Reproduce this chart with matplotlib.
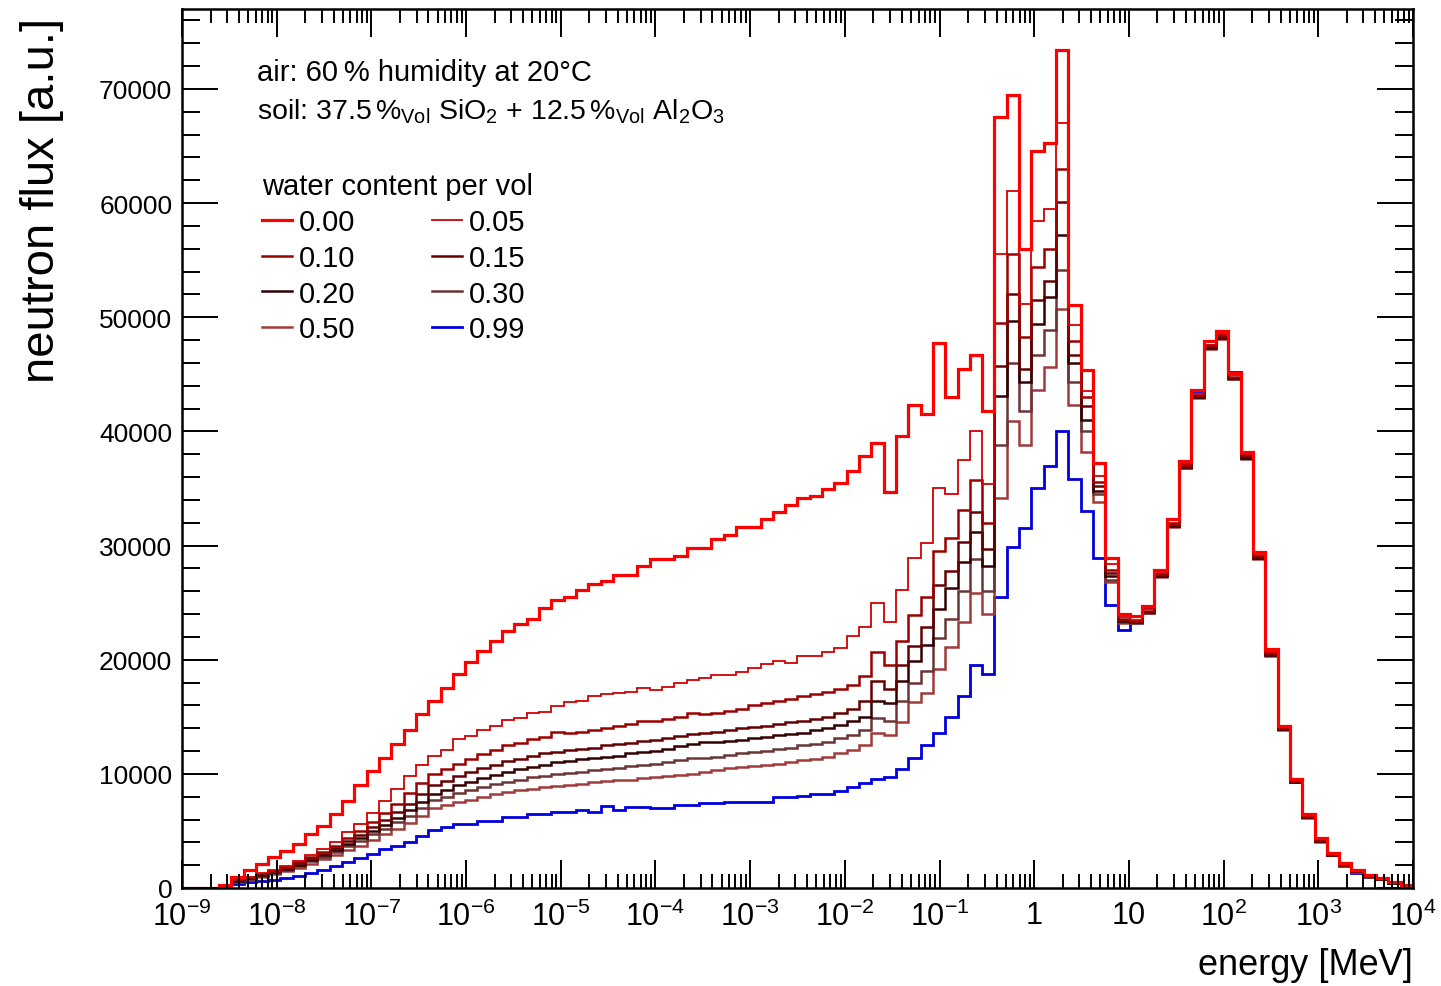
import matplotlib
matplotlib.use('Agg')
import matplotlib.pyplot as plt
import matplotlib.ticker as mticker
import numpy as np

plt.rcParams['font.family'] = ['Liberation Sans', 'DejaVu Sans']
plt.rcParams['mathtext.fontset'] = 'custom'
plt.rcParams['mathtext.rm'] = 'Liberation Sans'
plt.rcParams['mathtext.it'] = 'Liberation Sans:italic'
plt.rcParams['mathtext.bf'] = 'Liberation Sans:bold'

# 100 log bins from 1e-9 to 1e4 MeV, flux in units of 1000
edges_log = (-9, 4)
nbins = 100

flux_000 = [0, 0, 0, 0.3, 1.0, 1.6, 2.1, 2.7, 3.2, 3.85,
            4.7, 5.4, 6.5, 7.65, 9.0, 10.25, 11.4, 12.6, 13.8, 15.2,
            16.4, 17.5, 18.75, 19.8, 20.8, 21.6, 22.5, 23.1, 23.6, 24.5,
            25.2, 25.5, 26.1, 26.6, 26.9, 27.4, 27.4, 28.2, 28.8, 28.8,
            29.1, 29.8, 29.8, 30.6, 30.95, 31.6, 31.6, 32.3, 32.9, 33.55,
            34.2, 34.3, 34.96, 35.5, 36.5, 37.8, 39.0, 34.7, 39.6, 42.3,
            41.5, 47.7, 43.0, 45.5, 46.7, 41.8, 67.5, 69.5, 56.0, 64.6,
            65.3, 73.4, 51.1, 45.4, 37.2, 28.9, 24.0, 23.8, 24.7, 27.9,
            32.3, 37.4, 43.6, 47.9, 48.75, 45.1, 38.2, 29.4, 20.9, 14.2,
            9.55, 6.45, 4.34, 3.1, 2.15, 1.6, 1.15, 0.9, 0.55, 0.3]
flux_005 = [0, 0, 0, 0.2, 0.8, 1.0, 1.3, 1.6, 1.95, 2.4,
            2.9, 3.4, 4.05, 4.9, 5.6, 6.6, 7.65, 8.7, 9.85, 10.8,
            11.6, 12.1, 13.05, 13.35, 13.8, 14.2, 14.75, 14.9, 15.3, 15.45,
            15.9, 16.3, 16.4, 16.8, 17.0, 17.1, 17.15, 17.5, 17.35, 17.6,
            18.0, 18.25, 18.4, 18.7, 18.7, 18.95, 19.3, 19.6, 19.9, 19.7,
            20.35, 20.35, 20.65, 21.0, 22.1, 22.9, 25.0, 23.3, 26.1, 28.9,
            30.2, 35.0, 34.5, 37.5, 40.0, 35.4, 55.5, 61.1, 51.2, 58.4,
            59.5, 67.0, 49.3, 43.5, 36.1, 28.4, 23.7, 23.5, 24.4, 27.6,
            32.0, 37.1, 43.3, 47.6, 48.5, 44.9, 38.0, 29.2, 20.7, 14.1,
            9.45, 6.35, 4.25, 3.0, 2.1, 1.55, 1.1, 0.85, 0.5, 0.3]
flux_010 = [0, 0, 0, 0.2, 0.75, 0.95, 1.2, 1.5, 1.85, 2.25,
            2.7, 3.15, 3.7, 4.4, 5.0, 5.8, 6.6, 7.4, 8.3, 9.2,
            10.0, 10.4, 10.9, 11.3, 11.7, 12.1, 12.5, 12.7, 13.05, 13.2,
            13.7, 13.6, 13.7, 13.8, 14.0, 14.2, 14.4, 14.6, 14.65, 14.8,
            15.0, 15.3, 15.2, 15.3, 15.5, 15.7, 16.0, 16.2, 16.4, 16.6,
            16.8, 17.0, 17.2, 17.4, 17.8, 18.6, 20.7, 19.5, 21.6, 23.9,
            25.5, 29.5, 30.7, 33.1, 35.7, 32.0, 49.5, 55.5, 48.3, 54.4,
            56.0, 63.0, 47.9, 43.0, 35.6, 27.9, 23.6, 23.4, 24.3, 27.5,
            31.9, 37.0, 43.2, 47.5, 48.4, 44.8, 37.9, 29.1, 20.6, 14.0,
            9.4, 6.3, 4.2, 2.95, 2.05, 1.5, 1.1, 0.85, 0.5, 0.28]
flux_015 = [0, 0, 0, 0.2, 0.7, 0.9, 1.15, 1.45, 1.75, 2.15,
            2.6, 3.0, 3.5, 4.1, 4.65, 5.3, 6.0, 6.7, 7.4, 8.2,
            9.0, 9.4, 9.8, 10.2, 10.5, 10.8, 11.1, 11.3, 11.6, 11.8,
            11.9, 12.1, 12.2, 12.3, 12.5, 12.6, 12.7, 12.9, 13.0, 13.1,
            13.3, 13.5, 13.6, 13.7, 13.8, 14.0, 14.1, 14.2, 14.4, 14.5,
            14.6, 14.8, 15.0, 15.3, 15.7, 16.4, 18.1, 17.4, 19.5, 21.2,
            22.9, 26.5, 27.8, 30.3, 32.9, 29.7, 45.7, 52.0, 45.5, 51.5,
            53.2, 60.1, 46.7, 42.2, 35.2, 27.6, 23.5, 23.3, 24.2, 27.4,
            31.8, 36.9, 43.1, 47.4, 48.3, 44.7, 37.8, 29.0, 20.5, 13.95,
            9.35, 6.25, 4.15, 2.9, 2.0, 1.5, 1.05, 0.8, 0.5, 0.28]
flux_020 = [0, 0, 0, 0.2, 0.65, 0.85, 1.1, 1.4, 1.7, 2.05,
            2.45, 2.85, 3.3, 3.85, 4.35, 4.95, 5.5, 6.1, 6.8, 7.5,
            8.2, 8.6, 9.0, 9.3, 9.6, 9.9, 10.2, 10.4, 10.6, 10.8,
            11.0, 11.1, 11.3, 11.4, 11.5, 11.6, 11.8, 11.9, 12.0, 12.2,
            12.4, 12.6, 12.8, 12.8, 12.9, 13.0, 13.1, 13.2, 13.4, 13.5,
            13.6, 13.8, 14.0, 14.3, 14.6, 15.0, 16.4, 16.2, 18.1, 19.9,
            21.3, 24.4, 26.3, 28.6, 31.2, 28.2, 43.1, 49.7, 44.3, 49.4,
            51.8, 57.2, 46.0, 41.0, 34.8, 27.3, 23.4, 23.3, 24.2, 27.3,
            31.7, 36.9, 43.0, 47.3, 48.2, 44.7, 37.7, 28.9, 20.4, 13.9,
            9.3, 6.2, 4.1, 2.9, 2.0, 1.45, 1.05, 0.8, 0.45, 0.27]
flux_030 = [0, 0, 0, 0.2, 0.6, 0.8, 1.05, 1.3, 1.6, 1.95,
            2.35, 2.75, 3.15, 3.65, 4.1, 4.7, 5.2, 5.75, 6.3, 7.0,
            7.7, 8.0, 8.3, 8.6, 8.85, 9.1, 9.3, 9.5, 9.7, 9.85,
            10.0, 10.1, 10.2, 10.35, 10.45, 10.55, 10.65, 10.8, 10.9, 11.05,
            11.2, 11.35, 11.4, 11.5, 11.65, 11.8, 11.9, 12.0, 12.2, 12.3,
            12.5, 12.6, 12.8, 13.1, 13.4, 13.8, 14.9, 14.6, 16.4, 18.0,
            19.0, 21.9, 23.6, 26.05, 28.8, 26.0, 38.8, 46.0, 41.8, 46.7,
            48.9, 54.1, 44.3, 40.0, 34.5, 27.0, 23.3, 23.2, 24.1, 27.3,
            31.7, 36.8, 43.0, 47.3, 48.2, 44.6, 37.7, 28.9, 20.4, 13.9,
            9.3, 6.2, 4.1, 2.85, 1.95, 1.45, 1.0, 0.8, 0.45, 0.27]
flux_050 = [0, 0, 0, 0.2, 0.55, 0.7, 0.95, 1.2, 1.45, 1.75,
            2.1, 2.5, 2.85, 3.3, 3.7, 4.2, 4.7, 5.2, 5.7, 6.3,
            7.0, 7.25, 7.5, 7.75, 8.0, 8.2, 8.4, 8.55, 8.7, 8.85,
            8.95, 9.05, 9.15, 9.25, 9.35, 9.45, 9.5, 9.6, 9.7, 9.8,
            9.9, 10.0, 10.2, 10.3, 10.5, 10.6, 10.7, 10.8, 10.9, 11.0,
            11.2, 11.3, 11.5, 11.8, 12.1, 12.5, 13.6, 13.4, 14.5, 16.3,
            17.1, 19.2, 21.1, 23.3, 25.8, 24.0, 34.2, 40.9, 38.8, 43.6,
            45.6, 50.7, 42.3, 38.2, 33.8, 26.8, 23.2, 23.2, 24.1, 27.2,
            31.6, 36.8, 42.9, 47.2, 48.1, 44.6, 37.6, 28.8, 20.3, 13.85,
            9.25, 6.15, 4.05, 2.85, 1.95, 1.4, 1.0, 0.75, 0.45, 0.26]
flux_099 = [0, 0, 0, 0.1, 0.35, 0.5, 0.58, 0.7, 0.85, 1.02,
            1.29, 1.6, 1.9, 2.25, 2.6, 2.98, 3.42, 3.71, 4.06, 4.59,
            5.1, 5.3, 5.6, 5.6, 5.9, 5.9, 6.2, 6.2, 6.5, 6.5,
            6.7, 6.7, 6.86, 6.7, 7.15, 6.86, 7.1, 7.1, 7.05, 7.05,
            7.3, 7.3, 7.45, 7.45, 7.5, 7.5, 7.5, 7.56, 7.94, 7.94,
            8.03, 8.24, 8.24, 8.53, 8.82, 9.17, 9.55, 9.7, 10.4, 11.4,
            12.5, 13.6, 15.0, 16.85, 19.5, 18.75, 25.5, 29.9, 31.5, 35.0,
            37.0, 40.0, 35.8, 33.0, 28.9, 24.75, 22.6, 23.3, 24.6, 27.4,
            31.9, 37.1, 43.5, 47.6, 48.4, 45.2, 37.9, 29.0, 20.5, 13.9,
            9.3, 6.2, 4.1, 2.9, 2.0, 1.35, 1.0, 0.75, 0.45, 0.25]

labels = ['0.00', '0.05', '0.10', '0.15', '0.20', '0.30', '0.50', '0.99']
series = [flux_000, flux_005, flux_010, flux_015, flux_020, flux_030, flux_050, flux_099]
colors = ['#ff0000', '#d40000', '#9a0000', '#660000', '#330000', '#6b3535', '#a03a3a', '#0000dd']
widths = [2.3, 1.3, 1.8, 1.8, 1.8, 1.8, 1.8, 2.0]

edges = np.logspace(edges_log[0], edges_log[1], nbins + 1)

fig = plt.figure(figsize=(14.41, 9.87), dpi=100)
ax = fig.add_axes([182/1441., 1-889/987., (1413-182)/1441., (889-10)/987.])

handles = {}
for j in [7, 6, 5, 4, 3, 2, 1, 0]:
    ax.stairs(np.array(series[j])*1000, edges, color=colors[j],
              linewidth=widths[j], baseline=None)
    handles[j] = plt.Line2D([], [], color=colors[j], linewidth=widths[j])

ax.set_xscale('log')
ax.set_xlim(1e-9, 1e4)
ax.set_ylim(0, 77000)

def fmt(x, pos):
    k = int(round(np.log10(x)))
    if k == 0:
        return '1'
    if k == 1:
        return '10'
    return r'$10^{%d}$' % k

ax.xaxis.set_major_locator(mticker.LogLocator(base=10, numticks=20))
ax.xaxis.set_minor_locator(mticker.LogLocator(base=10, subs=np.arange(2, 10), numticks=200))
ax.xaxis.set_major_formatter(mticker.FuncFormatter(fmt))
ax.xaxis.set_minor_formatter(mticker.NullFormatter())
ax.yaxis.set_major_locator(mticker.MultipleLocator(10000))
ax.yaxis.set_minor_locator(mticker.MultipleLocator(2000))

ax.tick_params(axis='both', which='both', direction='in', top=True, right=True, width=1.4)
ax.tick_params(axis='y', which='major', length=26, labelsize=19, pad=7)
ax.tick_params(axis='y', which='minor', length=13)
ax.tick_params(axis='x', which='major', length=20, labelsize=22, pad=9)
ax.tick_params(axis='x', which='minor', length=10)
for s in ax.spines.values():
    s.set_linewidth(1.8)

fig.text(42/1441., 1-18/987., 'neutron flux [a.u.]', rotation=90, ha='center', va='top', fontsize=34)
fig.text(1413/1441., 1-966/987., 'energy [MeV]', ha='right', va='center', fontsize=26)

fig.text(257/1441., 1-73/987., 'air: 60\u2009% humidity at 20\u00b0C', ha='left', va='center', fontsize=21)
fig.text(257/1441., 1-112/987.,
         r'soil: 37.5$\,$%$_{\mathrm{Vol}}$ SiO$_{2}$ + 12.5$\,$%$_{\mathrm{Vol}}$ Al$_{2}$O$_{3}$',
         ha='left', va='center', fontsize=20.5)

# legend filled row by row like the original: matplotlib fills columns, so reorder
leg_order = [0, 2, 4, 6, 1, 3, 5, 7]
leg = ax.legend([handles[j] for j in leg_order], [labels[j] for j in leg_order],
                ncol=2, loc='upper left',
                bbox_to_anchor=(262/1441., 1-173/987.), bbox_transform=fig.transFigure,
                frameon=False, fontsize=21, title='water content per vol', title_fontsize=21,
                alignment='left', handlelength=1.03, handletextpad=0.25, columnspacing=2.6,
                labelspacing=0.27, borderpad=0, borderaxespad=0)

plt.savefig('out.png', dpi=100)
